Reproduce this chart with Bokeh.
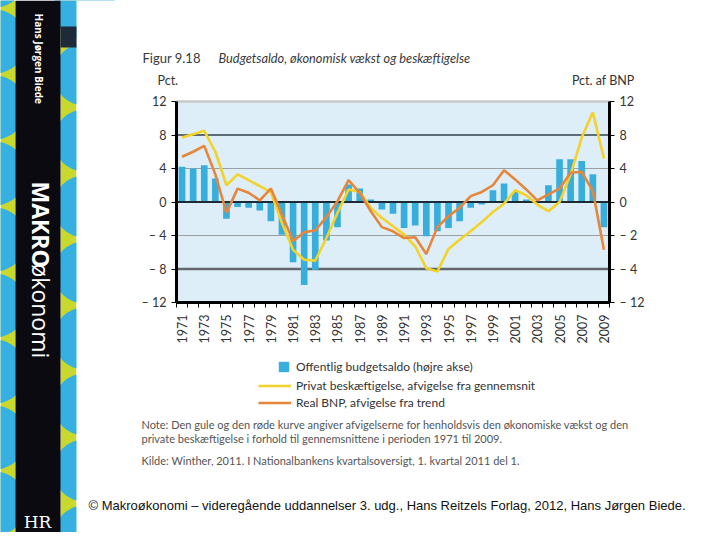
import math
from bokeh.plotting import figure
from bokeh.models import (Range1d, LinearAxis, FixedTicker, Label, Legend, LegendItem)
from bokeh.embed import file_html
from bokeh.resources import INLINE

# ---------------- data ----------------
years = list(range(1971, 2010))
budget_saldo = [4.2, 4.0, 4.4, 2.8, -2.0, -0.6, -0.7, -1.0, -2.3, -3.9,
                -7.2, -9.9, -8.1, -4.6, -3.0, 2.1, 1.6, 0.3, -0.9, -1.4,
                -3.1, -2.8, -4.1, -3.5, -3.1, -2.3, -0.7, -0.3, 1.4, 2.2,
                1.2, 0.3, 0.1, 2.0, 5.1, 5.1, 4.9, 3.3, -3.0]
privat_beskaeftigelse = [7.7, 8.1, 8.5, 6.0, 2.0, 3.3, 2.6, 1.9, 1.2, -2.5,
                         -5.7, -6.9, -7.0, -4.3, -1.3, 1.5, 1.2, -0.7, -1.9, -2.9,
                         -3.9, -5.3, -7.9, -8.3, -5.6, -4.5, -3.5, -2.4, -1.2, -0.2,
                         1.4, 0.8, -0.3, -1.1, 0.0, 3.3, 7.7, 10.7, 5.2]
real_bnp = [5.4, 6.0, 6.7, 3.3, -1.3, 1.6, 1.1, 0.2, 1.6, -1.5,
            -4.7, -3.6, -3.4, -1.8, 0.1, 2.6, 1.1, -1.1, -3.0, -3.5,
            -4.3, -4.2, -6.2, -3.0, -1.7, -0.7, 0.7, 1.2, 2.0, 3.8,
            2.7, 1.5, 0.2, 0.9, 1.6, 3.5, 3.6, 1.3, -5.7]
left_ticks = [-12, -8, -4, 0, 4, 8, 12]
left_tick_labels = ["– 12", "– 8", "– 4", "0", "4", "8", "12"]
right_tick_labels = ["– 12", "– 4", "– 2", "0", "4", "8", "12"]
label_years = [y for y in years if y % 2 == 1]

title_num = "Figur 9.18"
title_text = "Budgetsaldo, økonomisk vækst og beskæftigelse"
legend_texts = ["Offentlig budgetsaldo (højre akse)",
                "Privat beskæftigelse, afvigelse fra gennemsnit",
                "Real BNP, afvigelse fra trend"]
note_lines = ["Note: Den gule og den røde kurve angiver afvigelserne for henholdsvis den økonomiske vækst og den",
              "private beskæftigelse i forhold til gennemsnittene i perioden 1971 til 2009."]
source_line = "Kilde: Winther, 2011. I Nationalbankens kvartalsoversigt, 1. kvartal 2011 del 1."
copyright_line = "© Makroøkonomi – videregående uddannelser 3. udg., Hans Reitzels Forlag, 2012, Hans Jørgen Biede."
spine_author = "Hans Jørgen Biede"
spine_title_a = "MAKRO"
spine_title_b = "økonomi"
logo_text = "HR"

BLUE = "#38aedd"
YELLOW = "#f3d22a"
ORANGE = "#e6863a"
FONT = "Lato"
TXT = "#333333"

# ---------------- page geometry (picture pixel coordinates) ----------------
W, H = 712, 532
PX0, PY0 = 0, 0
CL, CR, CT, CB = 176, 609, 101, 302   # chart frame in the picture
X0, X1 = 1970.5, 2009.5
Y0, Y1 = -12.0, 12.0
kx = (CR - CL) / (X1 - X0)
ky = (CB - CT) / (Y1 - Y0)
yr = Range1d(X0 - (CL - PX0) / kx, X1 + (PX0 + W - CR) / kx)
vr = Range1d(Y0 - (PY0 + H - CB) / ky, Y1 + (CT - PY0) / ky)
vr2 = Range1d(vr.start, vr.end)

p = figure(width=W, height=H, x_range=Range1d(PX0, PX0 + W), y_range=Range1d(PY0 + H, PY0),
           x_axis_location=None, y_axis_location=None, min_border=0,
           toolbar_location=None, output_backend="svg")
p.extra_x_ranges = {"yr": yr}
p.extra_y_ranges = {"val": vr, "valr": vr2}
p.background_fill_color = "white"
p.border_fill_color = "white"
p.outline_line_color = None
p.grid.visible = False

# ---------------- book spine on the left ----------------
p.quad(left=[0, 60], right=[15, 76], top=[0, 0], bottom=[540, 540],
       fill_color="#c9d82c", line_color=None)
cy = list(range(-25, 580, 66))
p.circle(x=[-6] * len(cy), y=cy, radius=32, fill_color="#36b0e0", line_color=None)
cy2 = [c + 33 for c in cy]
p.circle(x=[84] * len(cy2), y=cy2, radius=31, fill_color="#36b0e0", line_color=None)
p.quad(left=[76], right=[130], top=[0], bottom=[540], fill_color="white", line_color=None)
p.quad(left=[15], right=[60], top=[0], bottom=[540], fill_color="#0a0a10", line_color=None)
p.quad(left=[60], right=[76], top=[26], bottom=[47], fill_color="#1d2a3a", line_color=None)

def plab(x, y, text, size="11px", style="normal", color=TXT, align="left", font=FONT, angle=0.0):
    p.add_layout(Label(x=x, y=y, text=text, text_font=font, text_font_size=size,
                       text_font_style=style, text_color=color, text_align=align,
                       text_baseline="middle", angle=angle))

plab(38, 13, spine_author, size="10px", style="bold", color="white", font="Open Sans", angle=-math.pi / 2)
plab(40, 181, spine_title_a, size="23px", style="bold", color="white", font="Open Sans", angle=-math.pi / 2)
plab(40, 263, spine_title_b, size="23px", color="white", font="Open Sans", angle=-math.pi / 2)
plab(37, 521, logo_text, size="17px", color="white", font="DejaVu Serif", align="center")

# ---------------- chart ----------------
p.quad(left=[X0], right=[X1], bottom=[Y0], top=[Y1], fill_color="#ddeef8", line_color=None,
       x_range_name="yr", y_range_name="val")
grid_levels = [12, 8, 4, -4, -8]
grid_colors = ["#c9c9c9", "#33414b", "#9a9fa3", "#9a9fa3", "#62676b"]
grid_widths = [2.5, 1.5, 1.0, 1.0, 2.5]
p.segment(x0=[X0] * len(grid_levels), x1=[X1] * len(grid_levels), y0=grid_levels, y1=grid_levels,
          line_color=grid_colors, line_width=grid_widths, x_range_name="yr", y_range_name="val")

bars = p.vbar(x=years, top=budget_saldo, bottom=0, width=0.6, fill_color=BLUE,
              line_color=None, x_range_name="yr", y_range_name="valr")
p.segment(x0=[X0], x1=[X1], y0=[0], y1=[0], line_color="#1b2a35", line_width=2,
          x_range_name="yr", y_range_name="val")
l_emp = p.line(years, privat_beskaeftigelse, line_color=YELLOW, line_width=2.6,
               x_range_name="yr", y_range_name="val")
l_bnp = p.line(years, real_bnp, line_color=ORANGE, line_width=2.6,
               x_range_name="yr", y_range_name="val")

# axes drawn at the chart's edges
ax = LinearAxis(x_range_name="yr", y_range_name="val", fixed_location=Y0, bounds=(X0, X1),
                ticker=FixedTicker(ticks=label_years, minor_ticks=[y - 0.5 for y in years] + [X1]))
ax.major_label_overrides = {y: str(y) for y in label_years}
ax.major_tick_line_color = None
ax.minor_tick_out = 5
ax.minor_tick_in = 0
ax.minor_tick_line_color = "black"
ax.axis_line_width = 3
ax.axis_line_color = "black"
ax.major_label_orientation = math.pi / 2
ax.major_label_standoff = 6
ax.major_label_text_font = FONT
ax.major_label_text_font_size = "12.5px"
ax.major_label_text_color = TXT
p.add_layout(ax, "below")

ay = LinearAxis(x_range_name="yr", y_range_name="val", fixed_location=X0, bounds=(Y0, Y1),
                ticker=FixedTicker(ticks=left_ticks, minor_ticks=[]))
ay.major_label_overrides = {t: s for t, s in zip(left_ticks, left_tick_labels)}
ay.major_tick_out = 5
ay.major_tick_in = 0
ay.axis_line_width = 3
ay.major_label_standoff = 5
ay.major_label_text_font = FONT
ay.major_label_text_font_size = "12.5px"
ay.major_label_text_color = TXT
p.add_layout(ay, "left")

ar = LinearAxis(x_range_name="yr", y_range_name="valr", fixed_location=X1, bounds=(Y0, Y1),
                ticker=FixedTicker(ticks=left_ticks, minor_ticks=[]))
ar.major_label_overrides = {t: s for t, s in zip(left_ticks, right_tick_labels)}
ar.major_tick_out = 5
ar.major_tick_in = 0
ar.axis_line_width = 3
ar.major_label_standoff = 5
ar.major_label_text_font = FONT
ar.major_label_text_font_size = "12.5px"
ar.major_label_text_color = TXT
p.add_layout(ar, "right")

# ---------------- texts ----------------
plab(142, 57, title_num, size="13px", color="#3a3a3a")
plab(218, 57, title_text, size="12.8px", style="italic", color="#3a3a3a")
plab(157, 80, "Pct.", size="12.5px")
plab(634, 80, "Pct. af BNP", size="12.5px", align="right")
plab(141, 424, note_lines[0], size="11px", color="#555555")
plab(141, 438, note_lines[1], size="11px", color="#555555")
plab(141, 460, source_line, size="11px", color="#555555")
plab(88, 505, copyright_line, size="13px", color="#111111", font="Liberation Sans")

leg1 = Legend(items=[LegendItem(label=legend_texts[0], renderers=[bars])],
              location=(277 - PX0, PY0 + H - 374), glyph_width=13, glyph_height=13, label_height=13,
              label_standoff=6, padding=0, margin=0, spacing=0,
              border_line_color=None, background_fill_alpha=0,
              label_text_font=FONT, label_text_font_size="12px", label_text_color=TXT)
leg2 = Legend(items=[LegendItem(label=legend_texts[1], renderers=[l_emp]),
                     LegendItem(label=legend_texts[2], renderers=[l_bnp])],
              location=(258 - PX0, PY0 + H - 411), glyph_width=33, glyph_height=17, label_height=17,
              label_standoff=5, padding=0, margin=0, spacing=0,
              border_line_color=None, background_fill_alpha=0,
              label_text_font=FONT, label_text_font_size="12px", label_text_color=TXT)
p.add_layout(leg1)
p.add_layout(leg2)

open("out.html", "w").write(file_html(p, INLINE))
